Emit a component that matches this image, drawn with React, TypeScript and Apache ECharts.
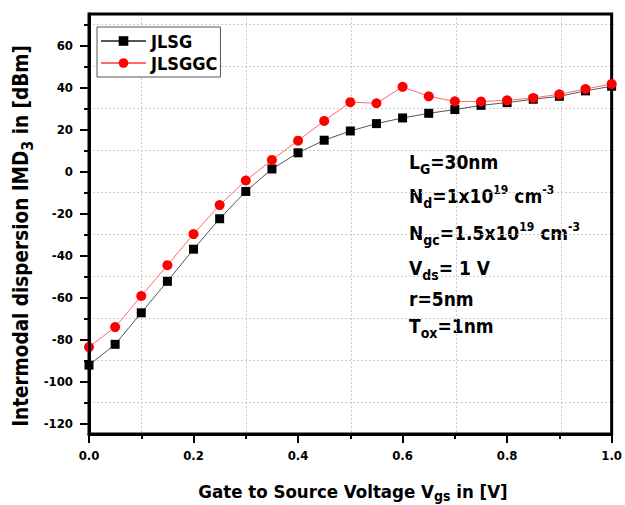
import React, { useEffect, useRef } from "react";
import * as echarts from "echarts";

const vgs = [0, 0.05, 0.1, 0.15, 0.2, 0.25, 0.3, 0.35, 0.4, 0.45, 0.5, 0.55, 0.6, 0.65, 0.7, 0.75, 0.8, 0.85, 0.9, 0.95, 1.0];
const jlsg = [-92.2, -82.3, -67.3, -52.3, -37.0, -22.5, -9.5, 1.2, 8.9, 14.9, 19.3, 22.8, 25.5, 27.7, 29.5, 31.5, 32.8, 34.4, 35.8, 38.4, 40.6];
const jlsggc = [-83.6, -74.1, -59.3, -44.6, -29.8, -16.0, -4.3, 5.5, 14.7, 24.1, 33.0, 32.5, 40.3, 35.8, 33.4, 33.3, 33.9, 35.0, 36.8, 39.3, 41.7];

const yMajorTicks = [-120, -100, -80, -60, -40, -20, 0, 20, 40, 60];
const yMinorTicks = [-110, -90, -70, -50, -30, -10, 10, 30, 50, 70];
const xGridValues = [0.1, 0.3, 0.5, 0.7, 0.9];

const FONT = '"DejaVu Sans Condensed", "DejaVu Sans", sans-serif';

const richBase = (main: number, sub: number, sup: number, subPad: number, supPad: number) => ({
  m: { fontSize: main, fontWeight: "bold", fontFamily: FONT, fill: "#000", color: "#000" },
  sub: { fontSize: sub, fontWeight: "bold", fontFamily: FONT, fill: "#000", color: "#000", padding: [subPad, 0, 0, 0] },
  sup: { fontSize: sup, fontWeight: "bold", fontFamily: FONT, fill: "#000", color: "#000", padding: [0, 0, supPad, 0] },
});

const gridLineStyle = { color: "#cccccc", width: 1, type: [2, 2] };

export default function App() {
  const ref = useRef<HTMLDivElement>(null);
  useEffect(() => {
    if (!ref.current) return;
    const chart = echarts.init(ref.current, null, { renderer: "svg" });
    const annRich = richBase(19, 14, 12, 14, 12);
    const annLines = [
      { t: "{m|L}{sub|G}{m|=30nm}", y: 162 },
      { t: "{m|N}{sub|d}{m|=1x10}{sup|19}{m| cm}{sup|-3}", y: 196 },
      { t: "{m|N}{sub|gc}{m|=1.5x10}{sup|19}{m| cm}{sup|-3}", y: 233 },
      { t: "{m|V}{sub|ds}{m|= 1 V}", y: 268 },
      { t: "{m|r=5nm}", y: 299 },
      { t: "{m|T}{sub|ox}{m|=1nm}", y: 326 },
    ];
    const axisLabelStyle = { fontSize: 13, fontWeight: "bold", fontFamily: FONT, color: "#000" };
    chart.setOption({
      animation: false,
      backgroundColor: "#fff",
      grid: [
        { left: 89, right: 11, top: 14, bottom: 71, show: true, borderColor: "#000", borderWidth: 3, z: 3 },
        { left: 89, right: 11, top: 14, bottom: 71, show: false },
      ],
      xAxis: [
        {
          type: "value", gridIndex: 0, min: 0, max: 1, interval: 0.2, z: 5,
          axisLine: { onZero: false, lineStyle: { color: "#000", width: 3 } },
          axisTick: { length: 9, lineStyle: { color: "#000", width: 2 } },
          minorTick: { show: true, splitNumber: 2, length: 5, lineStyle: { color: "#000", width: 2 } },
          axisLabel: { ...axisLabelStyle, margin: 15, formatter: (v: number) => v.toFixed(1) },
          splitLine: { show: false },
        },
        {
          type: "value", gridIndex: 1, min: 0, max: 1,
          axisLine: { show: false, onZero: false },
          axisTick: { show: false, customValues: xGridValues },
          axisLabel: { show: false, customValues: xGridValues },
          splitLine: { show: true, lineStyle: gridLineStyle },
        },
      ],
      yAxis: [
        {
          type: "value", gridIndex: 0, min: -125, max: 75, z: 5,
          axisLine: { show: true, onZero: false, lineStyle: { color: "#000", width: 3 } },
          axisTick: { show: true, length: 9, customValues: yMajorTicks, lineStyle: { color: "#000", width: 2 } },
          axisLabel: { ...axisLabelStyle, margin: 16, customValues: yMajorTicks },
          splitLine: { show: false },
        },
        {
          type: "value", gridIndex: 1, min: -125, max: 75,
          axisLine: { show: false, onZero: false },
          axisTick: { show: true, length: 5, customValues: yMinorTicks, lineStyle: { color: "#000", width: 2 } },
          axisLabel: { show: false, customValues: yMinorTicks },
          splitLine: { show: true, lineStyle: gridLineStyle },
        },
      ],
      legend: {
        data: ["JLSG", "JLSGGC"],
        orient: "vertical",
        left: 97,
        top: 27,
        z: 6,
        borderColor: "#555",
        borderWidth: 1,
        padding: [5, 3, 5, 3],
        itemWidth: 45,
        itemHeight: 12,
        itemGap: 4,
        backgroundColor: "#fff",
        textStyle: { fontSize: 18, fontWeight: "bold", fontFamily: FONT, color: "#000" },
      },
      graphic: [
        {
          type: "text",
          x: 21,
          y: 236,
          rotation: Math.PI / 2,
          style: {
            text: "{m|Intermodal dispersion IMD}{sub|3}{m| in [dBm]}",
            align: "center",
            verticalAlign: "middle",
            rich: richBase(20.5, 16, 12, 12, 10),
          },
        },
        {
          type: "text",
          x: 353,
          y: 491,
          style: {
            text: "{m|Gate to Source Voltage V}{sub|gs}{m| in [V]}",
            align: "center",
            verticalAlign: "middle",
            rich: richBase(18.5, 14, 12, 10, 10),
          },
        },
        ...annLines.map((l) => ({
          type: "text",
          x: 409,
          y: l.y,
          style: { text: l.t, align: "left", verticalAlign: "middle", rich: annRich },
        })),
      ],
      series: [
        {
          name: "JLSG",
          type: "line",
          z: 3,
          data: vgs.map((x, i) => [x, jlsg[i]]),
          symbol: "rect",
          symbolSize: 9,
          itemStyle: { color: "#000" },
          lineStyle: { color: "#555", width: 1 },
        },
        {
          name: "JLSGGC",
          type: "line",
          z: 4,
          data: vgs.map((x, i) => [x, jlsggc[i]]),
          symbol: "circle",
          symbolSize: 10,
          itemStyle: { color: "#ff0000" },
          lineStyle: { color: "#ff6a6a", width: 1 },
        },
      ],
    });
    return () => chart.dispose();
  }, []);
  return <div ref={ref} style={{ position: "absolute", left: 0, top: 0, width: 625, height: 505 }} />;
}
